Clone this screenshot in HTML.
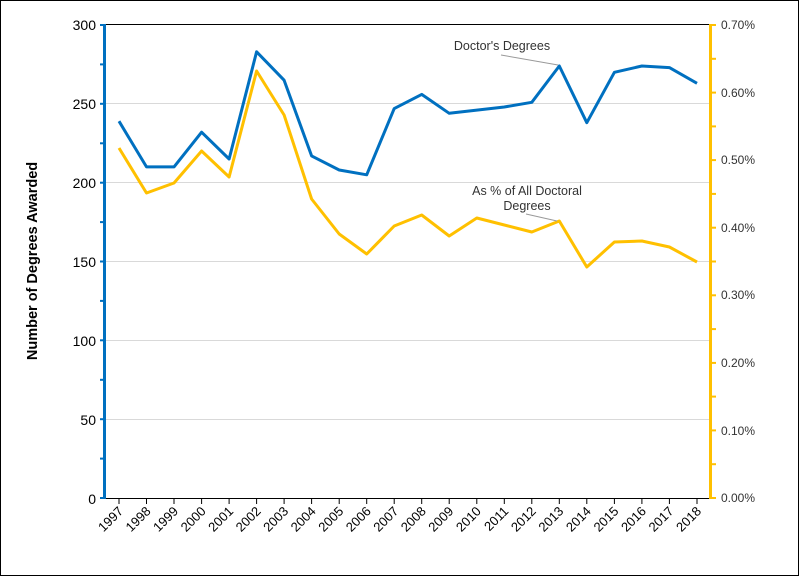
<!DOCTYPE html>
<html><head><style>
body{margin:0;background:#fff}
text{font-family:"Liberation Sans",Arial,sans-serif}
</style></head><body>
<svg width="800" height="577" xmlns="http://www.w3.org/2000/svg">
<rect x="0.5" y="0.5" width="798" height="575" fill="#fff" stroke="#000"/>
<g stroke="#d9d9d9" stroke-width="1">
<line x1="105" x2="710" y1="419.5" y2="419.5"/>
<line x1="105" x2="710" y1="340.5" y2="340.5"/>
<line x1="105" x2="710" y1="261.5" y2="261.5"/>
<line x1="105" x2="710" y1="182.5" y2="182.5"/>
<line x1="105" x2="710" y1="103.5" y2="103.5"/>
</g>
<line x1="105" x2="710" y1="24.5" y2="24.5" stroke="#000"/>
<line x1="105" x2="710" y1="498.5" y2="498.5" stroke="#000"/>
<g stroke="#000">
<line x1="119" x2="119" y1="498" y2="504"/><line x1="146.5" x2="146.5" y1="498" y2="504"/><line x1="174" x2="174" y1="498" y2="504"/><line x1="201.6" x2="201.6" y1="498" y2="504"/><line x1="229.1" x2="229.1" y1="498" y2="504"/><line x1="256.6" x2="256.6" y1="498" y2="504"/><line x1="284.1" x2="284.1" y1="498" y2="504"/><line x1="311.6" x2="311.6" y1="498" y2="504"/><line x1="339.2" x2="339.2" y1="498" y2="504"/><line x1="366.7" x2="366.7" y1="498" y2="504"/><line x1="394.2" x2="394.2" y1="498" y2="504"/><line x1="421.7" x2="421.7" y1="498" y2="504"/><line x1="449.2" x2="449.2" y1="498" y2="504"/><line x1="476.8" x2="476.8" y1="498" y2="504"/><line x1="504.3" x2="504.3" y1="498" y2="504"/><line x1="531.8" x2="531.8" y1="498" y2="504"/><line x1="559.3" x2="559.3" y1="498" y2="504"/><line x1="586.8" x2="586.8" y1="498" y2="504"/><line x1="614.4" x2="614.4" y1="498" y2="504"/><line x1="641.9" x2="641.9" y1="498" y2="504"/><line x1="669.4" x2="669.4" y1="498" y2="504"/><line x1="697" x2="697" y1="498" y2="504"/>
</g>
<line x1="104.5" x2="104.5" y1="24" y2="499" stroke="#0070c0" stroke-width="3"/>
<g stroke="#0070c0" stroke-width="2">
<line x1="100" x2="104" y1="25" y2="25"/><line x1="100" x2="104" y1="64.4" y2="64.4"/><line x1="100" x2="104" y1="103.8" y2="103.8"/><line x1="100" x2="104" y1="143.3" y2="143.3"/><line x1="100" x2="104" y1="182.7" y2="182.7"/><line x1="100" x2="104" y1="222.1" y2="222.1"/><line x1="100" x2="104" y1="261.5" y2="261.5"/><line x1="100" x2="104" y1="300.9" y2="300.9"/><line x1="100" x2="104" y1="340.3" y2="340.3"/><line x1="100" x2="104" y1="379.8" y2="379.8"/><line x1="100" x2="104" y1="419.2" y2="419.2"/><line x1="100" x2="104" y1="458.6" y2="458.6"/><line x1="100" x2="104" y1="498" y2="498"/>
</g>
<line x1="710.5" x2="710.5" y1="24" y2="499" stroke="#ffc000" stroke-width="3"/>
<g stroke="#ffc000" stroke-width="2">
<line x1="711" x2="716" y1="25" y2="25"/><line x1="711" x2="716" y1="58.8" y2="58.8"/><line x1="711" x2="716" y1="92.6" y2="92.6"/><line x1="711" x2="716" y1="126.4" y2="126.4"/><line x1="711" x2="716" y1="160.1" y2="160.1"/><line x1="711" x2="716" y1="193.9" y2="193.9"/><line x1="711" x2="716" y1="227.7" y2="227.7"/><line x1="711" x2="716" y1="261.5" y2="261.5"/><line x1="711" x2="716" y1="295.3" y2="295.3"/><line x1="711" x2="716" y1="329.1" y2="329.1"/><line x1="711" x2="716" y1="362.9" y2="362.9"/><line x1="711" x2="716" y1="396.6" y2="396.6"/><line x1="711" x2="716" y1="430.4" y2="430.4"/><line x1="711" x2="716" y1="464.2" y2="464.2"/><line x1="711" x2="716" y1="498" y2="498"/>
</g>
<g font-size="14" fill="#000" text-anchor="end">
<text x="96" y="30">300</text><text x="96" y="109">250</text><text x="96" y="188">200</text><text x="96" y="267">150</text><text x="96" y="346">100</text><text x="96" y="425">50</text><text x="96" y="504">0</text>
</g>
<g font-size="12" fill="#333" text-anchor="start">
<text x="721" y="29">0.70%</text><text x="721" y="97">0.60%</text><text x="721" y="164">0.50%</text><text x="721" y="232">0.40%</text><text x="721" y="299">0.30%</text><text x="721" y="367">0.20%</text><text x="721" y="435">0.10%</text><text x="721" y="502">0.00%</text>
</g>
<text transform="translate(37,261) rotate(-90)" font-size="14.5" font-weight="bold" text-anchor="middle">Number of Degrees Awarded</text>
<g font-size="13" fill="#000" text-anchor="end">
<text transform="translate(124,512) rotate(-45)">1997</text><text transform="translate(151.5,512) rotate(-45)">1998</text><text transform="translate(179,512) rotate(-45)">1999</text><text transform="translate(206.6,512) rotate(-45)">2000</text><text transform="translate(234.1,512) rotate(-45)">2001</text><text transform="translate(261.6,512) rotate(-45)">2002</text><text transform="translate(289.1,512) rotate(-45)">2003</text><text transform="translate(316.6,512) rotate(-45)">2004</text><text transform="translate(344.2,512) rotate(-45)">2005</text><text transform="translate(371.7,512) rotate(-45)">2006</text><text transform="translate(399.2,512) rotate(-45)">2007</text><text transform="translate(426.7,512) rotate(-45)">2008</text><text transform="translate(454.2,512) rotate(-45)">2009</text><text transform="translate(481.8,512) rotate(-45)">2010</text><text transform="translate(509.3,512) rotate(-45)">2011</text><text transform="translate(536.8,512) rotate(-45)">2012</text><text transform="translate(564.3,512) rotate(-45)">2013</text><text transform="translate(591.8,512) rotate(-45)">2014</text><text transform="translate(619.4,512) rotate(-45)">2015</text><text transform="translate(646.9,512) rotate(-45)">2016</text><text transform="translate(674.4,512) rotate(-45)">2017</text><text transform="translate(702,512) rotate(-45)">2018</text>
</g>
<polyline fill="none" stroke="#ffc000" stroke-width="3" stroke-linejoin="round" points="119,148 146.5,193 174,183 201.6,151 229.1,177 256.6,71 284.1,115 311.6,199 339.2,234 366.7,254 394.2,226 421.7,215 449.2,236 476.8,218 504.3,225 531.8,232 559.3,221 586.8,267 614.4,242 641.9,241 669.4,247 697,262"/>
<polyline fill="none" stroke="#0070c0" stroke-width="3" stroke-linejoin="round" points="119,121.2 146.5,166.9 174,166.9 201.6,132.2 229.1,159 256.6,51.8 284.1,80.2 311.6,155.9 339.2,170 366.7,174.8 394.2,108.6 421.7,94.4 449.2,113.3 476.8,110.1 504.3,107 531.8,102.3 559.3,66 586.8,122.7 614.4,72.3 641.9,66 669.4,67.6 697,83.3"/>
<line x1="501" y1="55" x2="558" y2="65" stroke="#999"/>
<line x1="526" y1="214" x2="557" y2="221" stroke="#999"/>
<g font-size="12.5" fill="#333" text-anchor="middle">
<text x="502" y="50">Doctor's Degrees</text>
<text x="527" y="195">As % of All Doctoral</text>
<text x="527" y="210">Degrees</text>
</g>
</svg>
</body></html>
